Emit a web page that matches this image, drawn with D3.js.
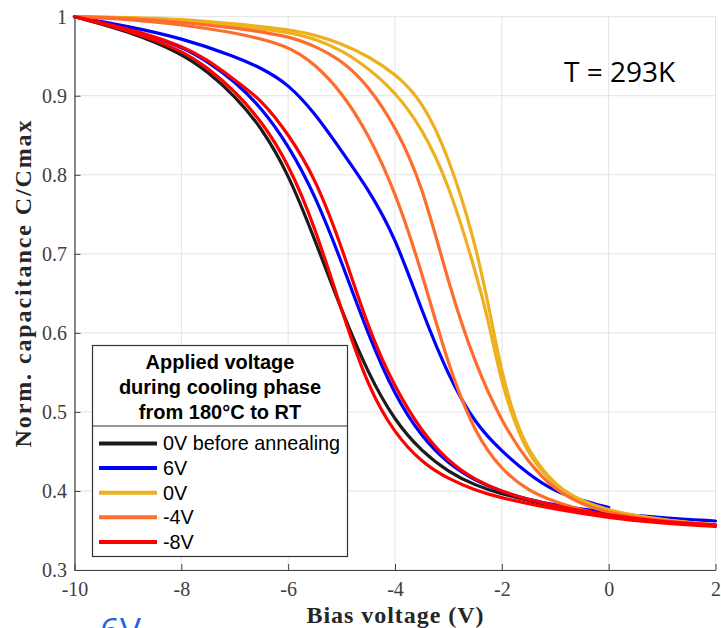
<!DOCTYPE html>
<html>
<head>
<meta charset="utf-8">
<script src="https://cdn.jsdelivr.net/npm/d3@7/dist/d3.min.js"></script>
<style>
  html, body { margin: 0; padding: 0; background: #fff; }
  svg { display: block; }
</style>
</head>
<body>
<svg id="chart" width="721" height="628"></svg>
<script>
// ---------------- data ----------------
const xTicks = [-10, -8, -6, -4, -2, 0, 2];
const yTicks = [0.3, 0.4, 0.5, 0.6, 0.7, 0.8, 0.9, 1];

// [bias voltage (V), normalized capacitance]
const black0VBefore = [[-10,1.000],[-9,0.982],[-8,0.954],[-7.5,0.930],[-7,0.900],[-6.5,0.860],[-6,0.802],[-5.5,0.718],[-5,0.628],[-4.5,0.548],[-4,0.488],[-3.5,0.450],[-3,0.424],[-2.5,0.407],[-2,0.396],[-1.5,0.388],[-1,0.380],[0,0.368],[1,0.360],[2,0.356]];
const blue6VShifted = [[-10,1.000],[-9,0.988],[-8,0.973],[-7,0.950],[-6.5,0.935],[-6,0.915],[-5.5,0.878],[-5,0.830],[-4.5,0.782],[-4,0.722],[-3.5,0.628],[-3,0.545],[-2.5,0.485],[-2,0.450],[-1.5,0.421],[-1,0.399],[-0.5,0.388],[0,0.379]];
const blue6VNear = [[-10,1.000],[-9,0.985],[-8,0.963],[-7.5,0.943],[-7,0.918],[-6.5,0.885],[-6,0.838],[-5.5,0.775],[-5,0.690],[-4.5,0.597],[-4,0.520],[-3.5,0.468],[-3,0.434],[-2.5,0.413],[-2,0.399],[-1.5,0.389],[-1,0.382],[0,0.372],[1,0.366],[2,0.362]];
const yellow0VA = [[-10,1.000],[-9,0.999],[-8,0.995],[-7,0.988],[-6,0.981],[-5.5,0.972],[-5,0.958],[-4.5,0.935],[-4,0.905],[-3.5,0.860],[-3,0.790],[-2.5,0.680],[-2.25,0.615],[-2,0.535],[-1.75,0.485],[-1.5,0.445],[-1,0.404],[-0.5,0.386],[0,0.374],[1,0.363],[2,0.357]];
const yellow0VB = [[-10,1.000],[-9,0.999],[-8,0.997],[-7,0.991],[-6,0.984],[-5.5,0.977],[-5,0.966],[-4.5,0.950],[-4,0.928],[-3.5,0.895],[-3,0.825],[-2.5,0.715],[-2.25,0.635],[-2,0.548],[-1.75,0.490],[-1.5,0.450],[-1,0.406],[-0.5,0.387],[0,0.375],[1,0.363],[2,0.357]];
const orangeM4VA = [[-10,1.000],[-9,0.997],[-8,0.990],[-7,0.980],[-6,0.964],[-5.5,0.940],[-5,0.905],[-4.5,0.852],[-4,0.780],[-3.5,0.678],[-3,0.557],[-2.5,0.472],[-2,0.426],[-1.5,0.400],[-1,0.386],[-0.5,0.376],[0,0.367],[1,0.360],[2,0.356]];
const orangeM4VB = [[-10,1.000],[-9,0.998],[-8,0.993],[-7,0.986],[-6,0.976],[-5.5,0.963],[-5,0.945],[-4.5,0.913],[-4,0.862],[-3.5,0.790],[-3,0.662],[-2.5,0.560],[-2,0.487],[-1.5,0.435],[-1,0.401],[-0.5,0.383],[0,0.372],[1,0.362],[2,0.357]];
const redM8VA = [[-10,1.000],[-9,0.983],[-8,0.958],[-7.5,0.935],[-7,0.906],[-6.5,0.868],[-6,0.815],[-5.5,0.735],[-5,0.628],[-4.5,0.530],[-4,0.472],[-3.5,0.436],[-3,0.415],[-2.5,0.401],[-2,0.391],[-1.5,0.384],[-1,0.377],[0,0.366],[1,0.359],[2,0.355]];
const redM8VB = [[-10,1.000],[-9,0.985],[-8,0.964],[-7.5,0.945],[-7,0.920],[-6.5,0.895],[-6,0.852],[-5.5,0.797],[-5,0.710],[-4.5,0.605],[-4,0.530],[-3.5,0.475],[-3,0.437],[-2.5,0.414],[-2,0.399],[-1.5,0.389],[-1,0.381],[0,0.369],[1,0.361],[2,0.357]];

const legendTitle = ["Applied voltage", "during cooling phase", "from 180°C to RT"];
const legendLabels = ["0V before annealing", "6V", "0V", "-4V", "-8V"];
const legendColors = ["#1c1c1c", "#0000ff", "#edb120", "#ff6d2d", "#ff0000"];

const series = [
  { pts: black0VBefore, color: "#1c1c1c" },
  { pts: blue6VShifted, color: "#0000ff" },
  { pts: blue6VNear,    color: "#0000ff" },
  { pts: yellow0VA,     color: "#edb120" },
  { pts: yellow0VB,     color: "#edb120" },
  { pts: orangeM4VA,    color: "#ff6d2d" },
  { pts: orangeM4VB,    color: "#ff6d2d" },
  { pts: redM8VA,       color: "#ff0000" },
  { pts: redM8VB,       color: "#ff0000" }
];

// ---------------- layout ----------------
const svg = d3.select("#chart");
const L = 74.5, R = 715.5, T = 16.7, B = 570;

const x = d3.scaleLinear().domain([-10, 2]).range([L, R]);
const y = d3.scaleLinear().domain([0.3, 1]).range([B, T]);

// grid
const grid = svg.append("g");
grid.selectAll(".gx").data(xTicks).join("line")
  .attr("x1", d => x(d)).attr("x2", d => x(d))
  .attr("y1", T).attr("y2", B)
  .attr("stroke", "#e3e3e3").attr("stroke-width", 1);
grid.selectAll(".gy").data(yTicks).join("line")
  .attr("x1", L).attr("x2", R)
  .attr("y1", d => y(d)).attr("y2", d => y(d))
  .attr("stroke", "#e3e3e3").attr("stroke-width", 1);

// curves
const line = d3.line()
  .x(d => x(d[0])).y(d => y(d[1]))
  .curve(d3.curveBasis);
svg.append("g").selectAll("path").data(series).join("path")
  .attr("d", d => line(d.pts))
  .attr("fill", "none")
  .attr("stroke", d => d.color)
  .attr("stroke-width", 3.2)
  .attr("stroke-linejoin", "round")
  .attr("stroke-linecap", "round");

// axes
const xAxis = d3.axisBottom(x).tickValues(xTicks)
  .tickFormat(d => String(d)).tickSizeInner(-6).tickSizeOuter(0).tickPadding(12);
const yAxis = d3.axisLeft(y).tickValues(yTicks)
  .tickFormat(d => d === 1 ? "1" : d.toFixed(1)).tickSizeInner(-6).tickSizeOuter(0).tickPadding(7.5);

const gx = svg.append("g").attr("transform", `translate(0,${B})`).call(xAxis);
const gy = svg.append("g").attr("transform", `translate(${L},0)`).call(yAxis);
[gx, gy].forEach(g => {
  g.select(".domain").attr("stroke", "#404040").attr("stroke-width", 1.2);
  g.selectAll(".tick line").attr("stroke", "#404040");
  g.selectAll(".tick text")
    .attr("fill", "#404040")
    .style("font-family", "'Liberation Serif', 'DejaVu Serif', serif")
    .style("font-size", "20px");
});

// axis labels
svg.append("text")
  .attr("x", (L + R) / 2).attr("y", 623)
  .attr("text-anchor", "middle")
  .attr("textLength", 177).attr("lengthAdjust", "spacing")
  .style("font-family", "'Liberation Serif', serif")
  .style("font-weight", "bold").style("font-size", "24px")
  .attr("fill", "#262626")
  .text("Bias voltage (V)");

svg.append("text")
  .attr("transform", `translate(31,284) rotate(-90)`)
  .attr("text-anchor", "middle")
  .attr("textLength", 327).attr("lengthAdjust", "spacing")
  .style("font-family", "'Liberation Serif', serif")
  .style("font-weight", "bold").style("font-size", "24px")
  .attr("fill", "#262626")
  .text("Norm. capacitance C/Cmax");

// annotation
svg.append("text")
  .attr("x", 564).attr("y", 81.5)
  .style("font-family", "'Open Sans', sans-serif")
  .style("font-size", "28px")
  .attr("fill", "#000")
  .text("T = 293K");

svg.append("text")
  .attr("x", 100).attr("y", 643)
  .style("font-family", "'Open Sans', sans-serif")
  .style("font-size", "35px")
  .attr("fill", "#1f66e0")
  .text("6V");

// legend
const lg = svg.append("g");
const lx = 92.5, ly = 345.5, lw = 255, lh = 211, ldiv = 426;
lg.append("rect").attr("x", lx).attr("y", ly).attr("width", lw).attr("height", lh)
  .attr("fill", "#fff").attr("stroke", "#333").attr("stroke-width", 1.2);
lg.append("line").attr("x1", lx).attr("x2", lx + lw).attr("y1", ldiv).attr("y2", ldiv)
  .attr("stroke", "#333").attr("stroke-width", 1.2);
lg.selectAll(".lt").data(legendTitle).join("text")
  .attr("x", lx + lw / 2).attr("y", (d, i) => 368.5 + i * 25)
  .attr("text-anchor", "middle")
  .style("font-family", "'Liberation Sans', Arial, sans-serif")
  .style("font-weight", "bold").style("font-size", "20px")
  .attr("fill", "#000")
  .text(d => d);
const entries = lg.selectAll(".le").data(legendLabels).join("g")
  .attr("transform", (d, i) => `translate(0,${443.5 + i * 24.6})`);
entries.append("line").attr("x1", 99).attr("x2", 157).attr("y1", 0).attr("y2", 0)
  .attr("stroke", (d, i) => legendColors[i]).attr("stroke-width", 4);
entries.append("text").attr("x", 163).attr("y", 6.8)
  .style("font-family", "'Liberation Sans', Arial, sans-serif")
  .style("font-size", "19.8px")
  .attr("fill", "#000")
  .text(d => d);
</script>
</body>
</html>
